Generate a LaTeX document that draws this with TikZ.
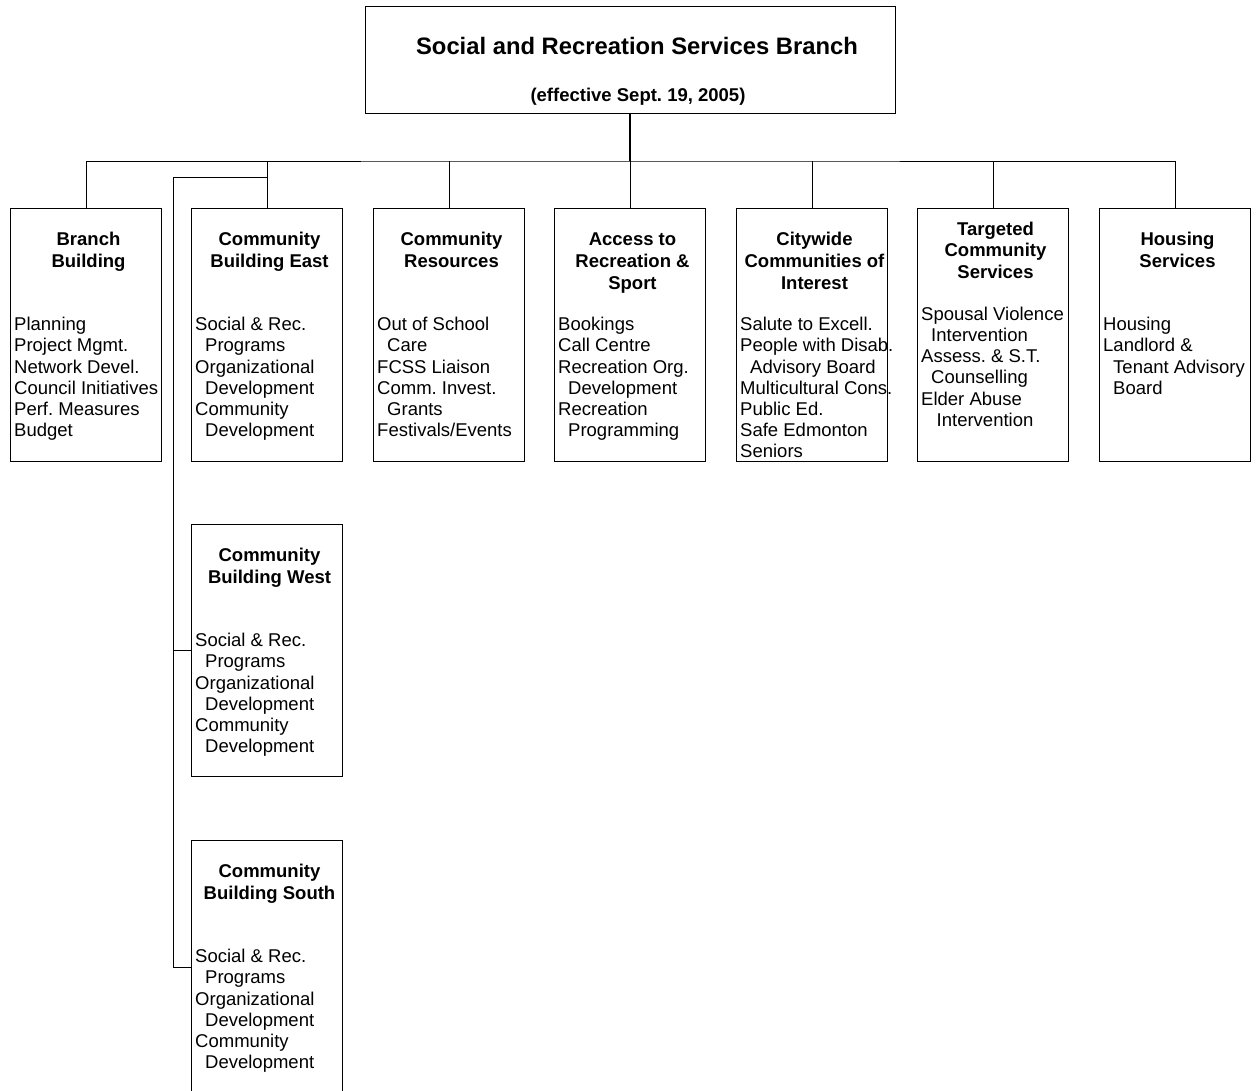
\documentclass[tikz,border=0pt]{standalone}
\usepackage{fontspec}
\setmainfont{Liberation Sans}
\frenchspacing
\newcommand\myBody{\fontsize{18.5}{21.2}\selectfont}
\newcommand\myHead{\fontsize{18.5}{21.6}\selectfont\bfseries}
\newcommand\myTitle{\fontsize{23.8}{28}\selectfont\bfseries}
\newcommand\fl{\rule{0pt}{15pt}}
\begin{document}
\begin{tikzpicture}[x=1pt,y=-1pt,
  unit/.style={draw, line width=0.9pt, minimum width=151pt, minimum height=253pt, inner sep=0pt, anchor=north west},
  headtxt/.style={anchor=north, align=center, inner sep=0pt, font=\myHead},
  bodytxt/.style={anchor=north west, align=left, inner sep=0pt, font=\myBody\frenchspacing},
  link/.style={line width=0.9pt}]
\useasboundingbox (0,0) rectangle (1256,1091);
% top box
\node[draw, line width=0.9pt, minimum width=530pt, minimum height=107pt, inner sep=0pt, anchor=north west] (top) at (365,6.5) {};
\node[anchor=base, inner sep=0pt, font=\myTitle] (ttl) at (637,54.5) {Social and Recreation Services Branch};
\node[anchor=base, inner sep=0pt, font=\myHead\frenchspacing] (sub) at (638,102) {(effective Sept. 19, 2005)};
% unit boxes
\node[unit] (b1) at (10,208) {};
\node[unit] (b2) at (191,208) {};
\node[unit] (b3) at (373,208) {};
\node[unit] (b4) at (554,208) {};
\node[unit] (b5) at (736,208) {};
\node[unit] (b6) at (917,208) {};
\node[unit] (b7) at (1099,208) {};
\node[unit, minimum height=252pt] (wst) at (191,524) {};
\node[unit] (sth) at (191,840) {};
% connectors
\coordinate (hub) at (630,161);
\draw[line width=2pt] (top.south) -- (top.south |- hub);
\draw[link] (b1.north) |- (hub) -| (b7.north);
\foreach \b in {b2,b3,b4,b5,b6} \draw[link] (\b.north) -- (\b.north |- hub);
\coordinate (spl) at (266.5,177);
\coordinate (sv) at (173,177);
\draw[link] (spl) -- (sv) |- (sth.west);
\draw[link] (sv |- wst.west) -- (wst.west);
% headings
\node[headtxt] (h1) at (88.5,230.7) {\fl Branch\\Building};
\node[headtxt] (h2) at (269.5,230.7) {\fl Community\\Building East};
\node[headtxt] (h3) at (451.5,230.7) {\fl Community\\Resources};
\node[headtxt] (h4) at (632.5,230.7) {\fl Access to\\Recreation \&\\Sport};
\node[headtxt] (h5) at (814.5,230.7) {\fl Citywide\\Communities of\\Interest};
\node[headtxt] (h6) at (995.5,220) {\fl Targeted\\Community\\Services};
\node[headtxt] (h7) at (1177.5,230.7) {\fl Housing\\Services};
\node[headtxt] (h8) at (269.5,546.7) {\fl Community\\Building West};
\node[headtxt] (h9) at (269.5,862.7) {\fl Community\\Building South};
% bodies
\node[bodytxt] (t1) at (14,315.5) {\fl Planning\\Project Mgmt.\\Network Devel.\\Council Initiatives\\Perf. Measures\\Budget};
\node[bodytxt] (t2) at (195,315.5) {\fl Social \& Rec.\\\hspace*{10pt}Programs\\Organizational\\\hspace*{10pt}Development\\Community\\\hspace*{10pt}Development};
\node[bodytxt] (t3) at (377,315.5) {\fl Out of School\\\hspace*{10pt}Care\\FCSS Liaison\\Comm. Invest.\\\hspace*{10pt}Grants\\Festivals/Events};
\node[bodytxt] (t4) at (558,315.5) {\fl Bookings\\Call Centre\\Recreation Org.\\\hspace*{10pt}Development\\Recreation\\\hspace*{10pt}Programming};
\node[bodytxt] (t5) at (740,315.5) {\fl Salute to Excell.\\People with Disab.\\\hspace*{10pt}Advisory Board\\Multicultural Cons.\\Public Ed.\\Safe Edmonton\\Seniors};
\node[bodytxt] (t6) at (921,305) {\fl Spousal Violence\\\hspace*{10pt}Intervention\\Assess. \& S.T.\\\hspace*{10pt}Counselling\\Elder Abuse\\\hspace*{15.5pt}Intervention};
\node[bodytxt] (t7) at (1103,315.5) {\fl Housing\\Landlord \&\\\hspace*{10pt}Tenant Advisory\\\hspace*{10pt}Board};
\node[bodytxt] (t8) at (195,631.5) {\fl Social \& Rec.\\\hspace*{10pt}Programs\\Organizational\\\hspace*{10pt}Development\\Community\\\hspace*{10pt}Development};
\node[bodytxt] (t9) at (195,947.5) {\fl Social \& Rec.\\\hspace*{10pt}Programs\\Organizational\\\hspace*{10pt}Development\\Community\\\hspace*{10pt}Development};
\end{tikzpicture}
\end{document}
